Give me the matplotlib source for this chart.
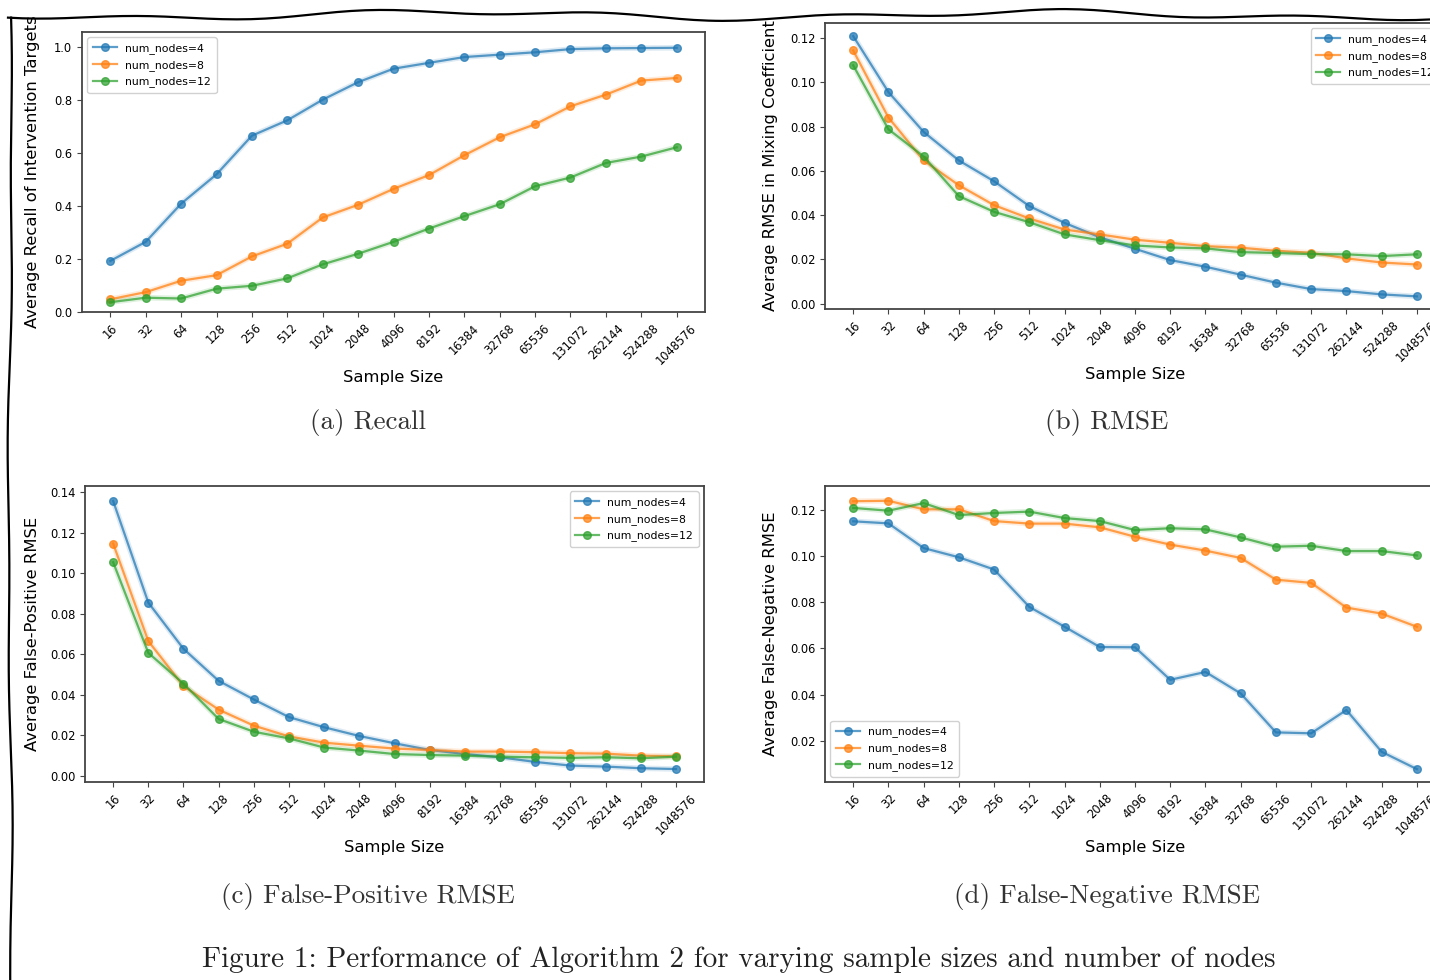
import numpy as np
import matplotlib
matplotlib.use('Agg')
import matplotlib.pyplot as plt
from matplotlib.lines import Line2D

sizes = ['16', '32', '64', '128', '256', '512', '1024', '2048', '4096', '8192',
         '16384', '32768', '65536', '131072', '262144', '524288', '1048576']
labels = ['num_nodes=4', 'num_nodes=8', 'num_nodes=12']

recall_4 = [0.192, 0.264, 0.408, 0.519, 0.665, 0.723, 0.801, 0.867, 0.918, 0.940,
            0.962, 0.971, 0.980, 0.992, 0.995, 0.996, 0.997]
recall_8 = [0.047, 0.074, 0.117, 0.138, 0.209, 0.257, 0.356, 0.404, 0.464, 0.516,
            0.591, 0.659, 0.708, 0.776, 0.820, 0.873, 0.883]
recall_12 = [0.036, 0.053, 0.050, 0.087, 0.098, 0.126, 0.179, 0.219, 0.264, 0.314,
             0.361, 0.406, 0.474, 0.507, 0.562, 0.586, 0.621]

rmse_4 = [0.1209, 0.0956, 0.0776, 0.0647, 0.0553, 0.0441, 0.0365, 0.0300, 0.0248, 0.0197,
          0.0167, 0.0131, 0.0095, 0.0066, 0.0057, 0.0042, 0.0033]
rmse_8 = [0.1144, 0.0841, 0.0647, 0.0535, 0.0445, 0.0385, 0.0335, 0.0313, 0.0289, 0.0275,
          0.0260, 0.0253, 0.0239, 0.0230, 0.0205, 0.0186, 0.0177]
rmse_12 = [0.1077, 0.0788, 0.0665, 0.0486, 0.0415, 0.0368, 0.0313, 0.0287, 0.0263, 0.0254,
           0.0250, 0.0233, 0.0229, 0.0224, 0.0223, 0.0215, 0.0223]

fp_4 = [0.1356, 0.0855, 0.0627, 0.0469, 0.0377, 0.0290, 0.0240, 0.0197, 0.0161, 0.0128,
        0.0108, 0.0092, 0.0069, 0.0051, 0.0046, 0.0038, 0.0034]
fp_8 = [0.1146, 0.0665, 0.0443, 0.0327, 0.0248, 0.0195, 0.0164, 0.0149, 0.0135, 0.0128,
        0.0120, 0.0120, 0.0117, 0.0112, 0.0110, 0.0100, 0.0097]
fp_12 = [0.1054, 0.0607, 0.0455, 0.0281, 0.0218, 0.0185, 0.0140, 0.0125, 0.0108, 0.0103,
         0.0100, 0.0095, 0.0092, 0.0089, 0.0092, 0.0087, 0.0095]

fn_4 = [0.1151, 0.1142, 0.1035, 0.0995, 0.0942, 0.0780, 0.0694, 0.0606, 0.0605, 0.0464,
        0.0498, 0.0405, 0.0236, 0.0232, 0.0333, 0.0152, 0.0077]
fn_8 = [0.1238, 0.1240, 0.1203, 0.1203, 0.1152, 0.1141, 0.1141, 0.1125, 0.1084, 0.1050,
        0.1024, 0.0992, 0.0898, 0.0884, 0.0777, 0.0751, 0.0694]
fn_12 = [0.1209, 0.1197, 0.1230, 0.1178, 0.1187, 0.1193, 0.1165, 0.1152, 0.1113, 0.1121,
         0.1116, 0.1081, 0.1041, 0.1045, 0.1022, 0.1022, 0.1003]

colors = ['#1f77b4', '#ff7f0e', '#2ca02c']
W, H = 1430, 980

fig = plt.figure(figsize=(W / 100, H / 100), dpi=100)
fig.patch.set_facecolor('white')


def box(l, t, r, b):
    return [l / W, 1 - b / H, (r - l) / W, (b - t) / H]


panels = [
    (box(82, 32, 705, 312), [recall_4, recall_8, recall_12], (-0.001, 1.0566),
     np.arange(0, 1.01, 0.2), '%.1f', 'Average Recall of Intervention Targets', 'upper left', 40),
    (box(825, 23, 1445, 309), [rmse_4, rmse_8, rmse_12], (-0.0024, 0.1268),
     np.arange(0, 0.121, 0.02), '%.2f', 'Average RMSE in Mixing Coefficient', 'upper right', 778),
    (box(85, 486, 704, 782), [fp_4, fp_8, fp_12], (-0.003, 0.143),
     np.arange(0, 0.141, 0.02), '%.2f', 'Average False-Positive RMSE', 'upper right', 40),
    (box(825, 486, 1445, 782), [fn_4, fn_8, fn_12], (0.0021, 0.1304),
     np.arange(0.02, 0.121, 0.02), '%.2f', 'Average False-Negative RMSE', 'lower left', 778),
]

x = np.arange(len(sizes))
for pos, series, ylim, yt, fmt, ylab, loc, ylx in panels:
    ax = fig.add_axes(pos)
    for vals, c, lab in zip(series, colors, labels):
        ax.plot(x, vals, color=c, lw=4, alpha=0.15, solid_capstyle='round')
        ax.plot(x, vals, color=c, lw=1.6, alpha=0.72, marker='o', ms=5.5, label=lab)
    ax.set_xlim(-0.8, 16.8)
    ax.set_ylim(*ylim)
    ax.set_xticks(x)
    ax.set_xticklabels(sizes, rotation=45, fontsize=8.3)
    ax.set_yticks(yt)
    ax.set_yticklabels([fmt % v for v in yt], fontsize=8.3)
    ax.tick_params(length=3.5, width=0.8, color='#444444')
    for s in ax.spines.values():
        s.set_color('#444444')
        s.set_linewidth(1.3)
    ax.set_xlabel('Sample Size', fontsize=11.8, labelpad=2)
    ax.set_ylabel(ylab, fontsize=11.8)
    ax.yaxis.set_label_coords((ylx - pos[0] * W) / (pos[2] * W), 0.5)
    ax.legend(loc=loc, fontsize=7.8, frameon=True, framealpha=0.9, edgecolor='#cccccc',
              handlelength=2.2, borderpad=0.5, labelspacing=0.55)

captions = [('(a) Recall', 368, 422), ('(b) RMSE', 1107, 422),
            ('(c) False-Positive RMSE', 368, 896), ('(d) False-Negative RMSE', 1107, 896)]
for txt, cx, cy in captions:
    fig.text(cx / W, 1 - cy / H, txt, ha='center', va='center', fontsize=19.5,
             family='cmr10', color='#333333')
fig.text(739 / W, 1 - 960 / H, 'Figure 1: Performance of Algorithm 2 for varying sample sizes and number of nodes',
         ha='center', va='center', fontsize=21, family='cmr10', color='#222222')

# hand-drawn frame along the top and left
tx = np.linspace(8, W, 200)
ty = 15 + 3.5 * np.sin(tx / 95.0) + 2.5 * np.sin(tx / 37.0 + 1.0)
fig.add_artist(Line2D(tx / W, 1 - ty / H, color='black', lw=1.6, transform=fig.transFigure))
ly = np.linspace(ty[0], H, 200)
lx = 10 + 1.8 * np.sin(ly / 110.0) + 1.0 * np.sin(ly / 41.0 + 0.5)
fig.add_artist(Line2D(lx / W, 1 - ly / H, color='black', lw=1.6, transform=fig.transFigure))

fig.savefig('out.png', dpi=100, facecolor='white')
